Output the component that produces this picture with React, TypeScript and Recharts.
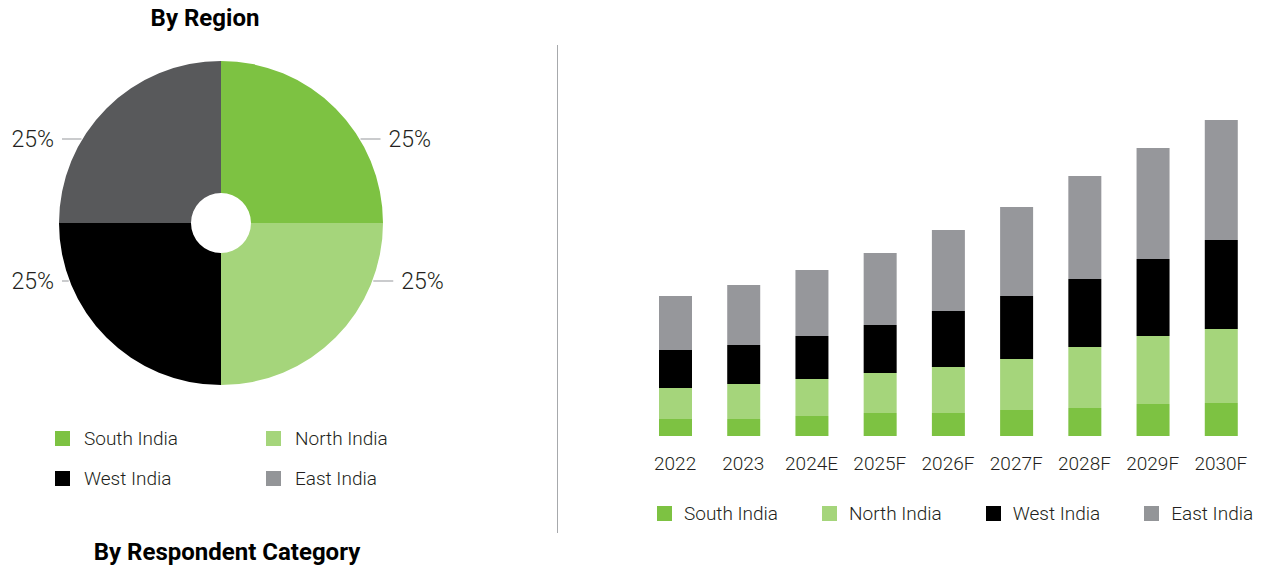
import { PieChart, Pie, Cell, BarChart, Bar, XAxis, YAxis, Legend } from 'recharts'

const regions = ['South India', 'North India', 'West India', 'East India']
const shares = [25, 25, 25, 25]

const years = ['2022', '2023', '2024E', '2025F', '2026F', '2027F', '2028F', '2029F', '2030F']
const south = [17, 17, 20, 23, 23, 26, 28, 32, 33]
const north = [31, 35, 37, 40, 46, 51, 61, 68, 74]
const west = [38, 39, 43, 48, 56, 63, 68, 77, 89]
const east = [54, 60, 66, 72, 81, 89, 103, 111, 120]

const pieColors = ['#7dc242', '#a5d57b', '#000000', '#58595b']
const barColors = ['#7dc242', '#a5d57b', '#000000', '#96979b']
const legendColors = ['#7dc242', '#a5d57b', '#000000', '#939598']

const font = 'Roboto, "Open Sans", sans-serif'
const textColor = '#231f20'

const pieData = regions.map((name, i) => ({ name, value: shares[i] }))
const barData = years.map((year, i) => ({
  year,
  south: south[i],
  north: north[i],
  west: west[i],
  east: east[i],
}))

// leader lines sit at fixed heights, not at the slice mid angle
const labelDy = [-84, 58, 58, -84]

function PieLabel(props: any) {
  const { cx, cy, outerRadius, index, value } = props
  const dy = labelDy[index]
  const right = index < 2
  const edge = Math.sqrt(outerRadius * outerRadius - dy * dy)
  const x0 = right ? cx + edge + 1 : cx - edge - 1
  // left-hand labels line up in one column
  const x1 = right ? x0 + 20 : cx - outerRadius + 3
  const y = cy + dy
  return (
    <g>
      <line x1={x0} y1={y} x2={x1} y2={y} stroke="#a7a9ac" strokeWidth={1.2} />
      <text
        x={right ? x1 + 8 : x1 - 8}
        y={y}
        dy="0.36em"
        textAnchor={right ? 'start' : 'end'}
        fill={textColor}
        fontSize={23}
        fontWeight={300}
        fontFamily={font}
      >
        {value}%
      </text>
    </g>
  )
}

function BarLegend() {
  return (
    <div style={{ display: 'flex', alignItems: 'center', gap: 44, paddingLeft: 57, height: 26 }}>
      {regions.map((r, i) => (
        <div key={r} style={{ display: 'flex', alignItems: 'center' }}>
          <span style={{ width: 15, height: 15, background: legendColors[i], marginRight: 12 }} />
          <span style={{ fontSize: 19, fontWeight: 300, color: textColor, fontFamily: font }}>{r}</span>
        </div>
      ))}
    </div>
  )
}

const titleStyle = {
  position: 'absolute' as const,
  fontFamily: font,
  fontWeight: 700,
  fontSize: 24,
  color: '#000',
  transform: 'translate(-50%, -50%)',
  whiteSpace: 'nowrap' as const,
}

export default function App() {
  return (
    <div
      style={{
        position: 'absolute',
        left: 0,
        top: 0,
        width: 1263,
        height: 569,
        background: '#fff',
        fontFamily: font,
        overflow: 'hidden',
      }}
    >
      <div style={{ ...titleStyle, left: 205, top: 18 }}>By Region</div>

      <div style={{ position: 'absolute', left: 0, top: 0 }}>
        <PieChart width={460} height={400} margin={{ top: 0, right: 0, bottom: 0, left: 0 }}>
          <Pie
            data={pieData}
            dataKey="value"
            cx={221}
            cy={223}
            innerRadius={30}
            outerRadius={162}
            startAngle={90}
            endAngle={-270}
            stroke="none"
            label={PieLabel}
            labelLine={false}
            isAnimationActive={false}
          >
            {pieData.map((d, i) => (
              <Cell key={d.name} fill={pieColors[i]} />
            ))}
          </Pie>
        </PieChart>
      </div>

      {/* pie legend, two by two */}
      <div
        style={{
          position: 'absolute',
          left: 55,
          top: 425,
          display: 'grid',
          gridTemplateColumns: '211px 211px',
          rowGap: 14,
        }}
      >
        {regions.map((r, i) => (
          <div key={r} style={{ display: 'flex', alignItems: 'center', height: 26 }}>
            <span style={{ width: 15, height: 15, background: legendColors[i], marginRight: 14 }} />
            <span style={{ fontSize: 19, fontWeight: 300, color: textColor }}>{r}</span>
          </div>
        ))}
      </div>

      <div style={{ ...titleStyle, left: 227, top: 552 }}>By Respondent Category</div>

      <div style={{ position: 'absolute', left: 557, top: 45, width: 1, height: 488, background: '#a7a9ac' }} />

      <div style={{ position: 'absolute', left: 600, top: 0 }}>
        <BarChart
          width={663}
          height={569}
          data={barData}
          margin={{ top: 116, right: 8, left: 41, bottom: 77 }}
          barSize={33}
        >
          <XAxis
            dataKey="year"
            axisLine={false}
            tickLine={false}
            tickMargin={15}
            height={30}
            interval={0}
            tick={{ fontSize: 19, fontWeight: 300, fill: textColor, fontFamily: font }}
          />
          <YAxis hide domain={[0, 320]} width={0} />
          <Legend
            verticalAlign="bottom"
            content={BarLegend}
            wrapperStyle={{ top: 500, left: 0, bottom: 'auto', width: 663 }}
          />
          <Bar dataKey="south" stackId="a" fill={barColors[0]} isAnimationActive={false} />
          <Bar dataKey="north" stackId="a" fill={barColors[1]} isAnimationActive={false} />
          <Bar dataKey="west" stackId="a" fill={barColors[2]} isAnimationActive={false} />
          <Bar dataKey="east" stackId="a" fill={barColors[3]} isAnimationActive={false} />
        </BarChart>
      </div>
    </div>
  )
}
